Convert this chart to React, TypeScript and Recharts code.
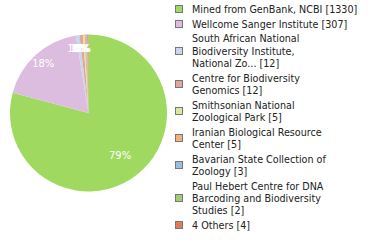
import React from "react";
import { PieChart, Pie, Cell, Legend } from "recharts";

const names = [
  "Mined from GenBank, NCBI",
  "Wellcome Sanger Institute",
  "South African National\nBiodiversity Institute,\nNational Zo...",
  "Centre for Biodiversity\nGenomics",
  "Smithsonian National\nZoological Park",
  "Iranian Biological Resource\nCenter",
  "Bavarian State Collection of\nZoology",
  "Paul Hebert Centre for DNA\nBarcoding and Biodiversity\nStudies",
  "4 Others",
];
const counts = [1330, 307, 12, 12, 5, 5, 3, 2, 4];
const colors = [
  "#a0d95f",
  "#dcbde0",
  "#c9d8e8",
  "#e0a89c",
  "#dde69c",
  "#f0b27a",
  "#9abde2",
  "#a0cc78",
  "#e07a5c",
];

const data = names.map((n, i) => ({ name: n, value: counts[i], color: colors[i] }));

const CX = 83.5;
const CY = 108;
const RAD = Math.PI / 180;

const renderLabel = (props: any) => {
  const { midAngle, percent } = props;
  const r = 60;
  const x = CX + r * Math.cos(-midAngle * RAD);
  const y = CY + r * Math.sin(-midAngle * RAD);
  return (
    <text
      x={x}
      y={y + 3.5}
      fill="#ffffff"
      fontSize={10}
      fontFamily="DejaVu Sans"
      textAnchor="middle"
    >
      {Math.round(percent * 100) + "%"}
    </text>
  );
};

const renderLegend = () => (
  <div style={{ display: "flex", flexDirection: "column" }}>
    {data.map((d, i) => (
      <div
        key={i}
        style={{ display: "flex", alignItems: "center", marginBottom: 2.4 }}
      >
        <div
          style={{
            width: 6,
            height: 6,
            background: d.color,
            border: "1px solid #777",
            marginRight: 9,
            marginTop: -2,
            flex: "none",
          }}
        />
        <div
          style={{
            whiteSpace: "pre-line",
            fontFamily: "DejaVu Sans",
            fontSize: 9.6,
            lineHeight: "12.3px",
            color: "#222",
          }}
        >
          {d.name + " [" + d.value + "]"}
        </div>
      </div>
    ))}
  </div>
);

export default function App() {
  return (
    <div style={{ position: "fixed", left: 0, top: 0, width: 380, height: 240, background: "#fff" }}>
      <PieChart width={380} height={240}>
        <Pie
          data={data}
          dataKey="value"
          nameKey="name"
          cx={CX}
          cy={CY}
          outerRadius={78.5}
          startAngle={90}
          endAngle={-270}
          stroke="none"
          label={renderLabel}
          labelLine={false}
          isAnimationActive={false}
        >
          {data.map((d, i) => (
            <Cell key={i} fill={d.color} />
          ))}
        </Pie>
        <Legend
          content={renderLegend}
          wrapperStyle={{ position: "absolute", left: 175, top: 4, width: 205, margin: 0 }}
        />
      </PieChart>
    </div>
  );
}
